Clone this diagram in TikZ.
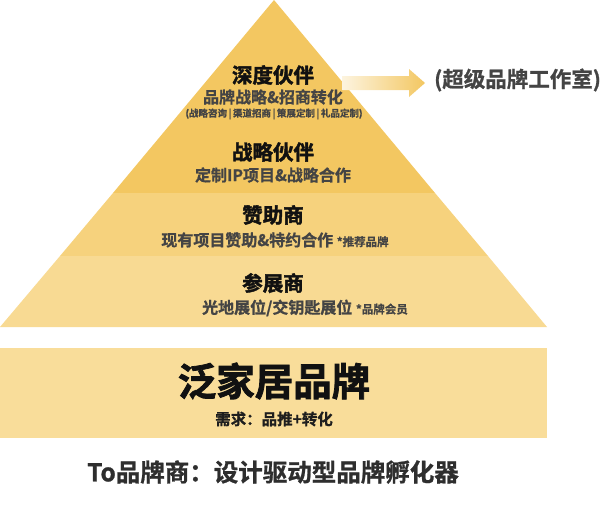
\documentclass[tikz,border=0pt]{standalone}
\usepackage{fontspec}
\setmainfont{Noto Sans CJK SC}[BoldFont={Noto Sans CJK SC Bold}]
\newfontfamily\heavyfont{Noto Sans CJK SC Bold}[FakeBold=2]
\newfontfamily\semifont{Noto Sans CJK SC Bold}[FakeBold=1]
\definecolor{goldA}{HTML}{F3C761}
\definecolor{goldB}{HTML}{F6D27D}
\definecolor{goldC}{HTML}{F8DA93}
\definecolor{goldD}{HTML}{F9DD9A}
\definecolor{titlecol}{HTML}{111111}
\definecolor{subcol}{HTML}{444444}
\definecolor{bottomcol}{HTML}{2E2E2E}
\tikzset{
  title/.style={font=\heavyfont\fontsize{20.5}{22}\selectfont, text=titlecol, inner sep=0pt},
  subline/.style={font=\semifont\fontsize{16}{18}\selectfont, text=subcol, inner sep=0pt},
  tiny/.style={font=\semifont\fontsize{9.5}{11}\selectfont, text=subcol, inner sep=0pt},
}
\newcommand{\smalltag}[1]{{\fontsize{11.5}{13}\selectfont #1}}
\newcommand{\pipesep}{\,|\,}
\begin{document}
\begin{tikzpicture}[x=1pt,y=-1pt]
\useasboundingbox (0,0) rectangle (600,506);
% pyramid coordinates
\coordinate (apex) at (274,0);
\coordinate (L1) at (113,193);
\coordinate (R1) at (435,193);
\coordinate (L2) at (60,256);
\coordinate (R2) at (488,256);
\coordinate (L3) at (0,327);
\coordinate (R3) at (547,327);
% bands
\fill[goldA] (apex) -- (R1) -- (L1) -- cycle;
\fill[goldB] (L1) -- (R1) -- (R2) -- (L2) -- cycle;
\fill[goldC] (L2) -- (R2) -- (R3) -- (L3) -- cycle;
% base block
\fill[goldD] (0,348) rectangle (547,438);
% arrow
\coordinate (arS) at (342,83);
\coordinate (arT) at (425,83);
\shade[left color=goldA!20!white, right color=goldA]
  (342,76) -- (409,76) -- (409,69) -- (arT) -- (409,97) -- (409,90) -- (342,90) -- cycle;
% texts
\node[title] (t1) at (273,75) {深度伙伴};
\node[subline] (s1) at (273,97) {品牌战略\&招商转化};
\node[tiny] (d1) at (274,114) {(战略咨询\pipesep 渠道招商\pipesep 策展定制\pipesep 礼品定制)};
\node[title] (t2) at (273,152) {战略伙伴};
\node[subline] (s2) at (273,175) {定制IP项目\&战略合作};
\node[title] (t3) at (273,215) {赞助商};
\node[subline] (s3) at (275,240) {现有项目赞助\&特约合作 \smalltag{*推荐品牌}};
\node[title] (t4) at (273,283) {参展商};
\node[subline] (s4) at (305,308) {光地展位/交钥匙展位 \smalltag{*品牌会员}};
\node[title, font=\heavyfont\fontsize{38.5}{40}\selectfont] (t5) at (274,381) {泛家居品牌};
\node[subline, font=\semifont\fontsize{15.5}{17}\selectfont, text=titlecol!75!subcol] (s5) at (274,419) {需求：品推+转化};
\node[font=\semifont\fontsize{24.5}{27}\selectfont, text=bottomcol, inner sep=0pt] (bt) at (273,472) {To品牌商：设计驱动型品牌孵化器};
\node[font=\semifont\fontsize{21.5}{23}\selectfont, text=subcol, inner sep=0pt, anchor=west] (studio) at (434,80) {(超级品牌工作室)};
\end{tikzpicture}
\end{document}
